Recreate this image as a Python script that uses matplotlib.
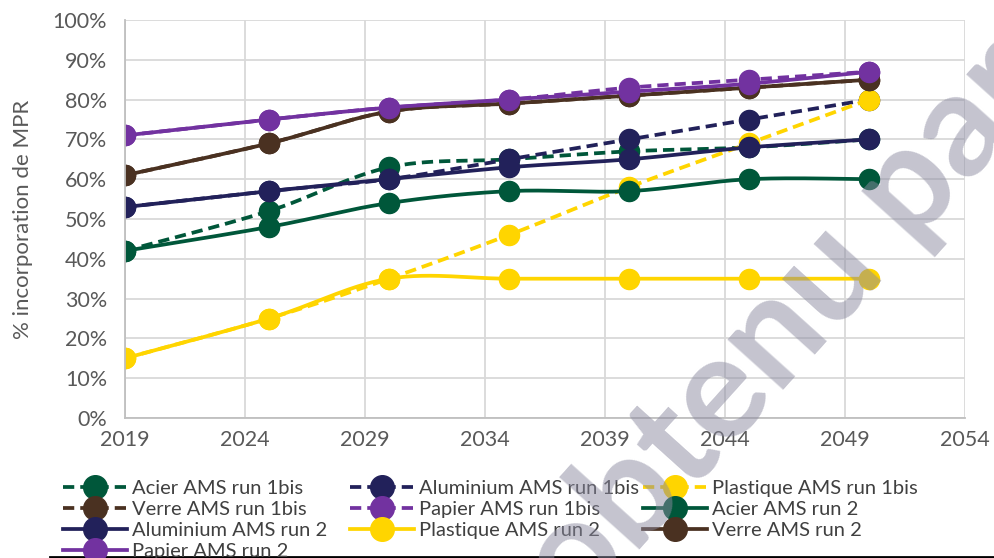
import numpy as np
import matplotlib.pyplot as plt
import matplotlib as mpl
from matplotlib.lines import Line2D

mpl.rcParams.update({'font.family': ['Lato', 'DejaVu Sans']})

years = [2019, 2025, 2030, 2035, 2040, 2045, 2050]

acier_1bis = [42, 52, 63, 65, 67, 68, 70]
alu_1bis = [53, 57, 60, 65, 70, 75, 80]
plast_1bis = [15, 25, 35, 46, 58, 69, 80]
verre_1bis = [61, 69, 77, 79, 81, 83, 85]
papier_1bis = [71, 75, 78, 80, 83, 85, 87]
acier_2 = [42, 48, 54, 57, 57, 60, 60]
alu_2 = [53, 57, 60, 63, 65, 68, 70]
plast_2 = [15, 25, 35, 35, 35, 35, 35]
verre_2 = [61, 69, 77, 79, 81, 83, 85]
papier_2 = [71, 75, 78, 80, 82, 84, 87]

green = '#00573A'
navy = '#22215A'
yellow = '#FFD500'
brown = '#4A3121'
purple = '#7232A0'

series = [
    ('Acier AMS run 1bis', acier_1bis, green, '--'),
    ('Aluminium AMS run 1bis', alu_1bis, navy, '--'),
    ('Plastique AMS run 1bis', plast_1bis, yellow, '--'),
    ('Verre AMS run 1bis', verre_1bis, brown, '--'),
    ('Papier AMS run 1bis', papier_1bis, purple, '--'),
    ('Acier AMS run 2', acier_2, green, '-'),
    ('Aluminium AMS run 2', alu_2, navy, '-'),
    ('Plastique AMS run 2', plast_2, yellow, '-'),
    ('Verre AMS run 2', verre_2, brown, '-'),
    ('Papier AMS run 2', papier_2, purple, '-'),
]


def smooth(x, y, n=30):
    # Excel-style smoothed line (Catmull-Rom bezier)
    p = np.column_stack([x, y]).astype(float)
    out = []
    for i in range(len(p) - 1):
        p0 = p[i - 1] if i > 0 else p[i]
        p1, p2 = p[i], p[i + 1]
        p3 = p[i + 2] if i + 2 < len(p) else p[i + 1]
        c1 = p1 + (p2 - p0) / 6
        c2 = p2 - (p3 - p1) / 6
        t = np.linspace(0, 1, n)[:, None]
        b = (1 - t)**3 * p1 + 3 * (1 - t)**2 * t * c1 + 3 * (1 - t) * t**2 * c2 + t**3 * p2
        out.append(b if i == 0 else b[1:])
    out = np.vstack(out)
    return out[:, 0], out[:, 1]


fig = plt.figure(figsize=(9.95, 5.58), dpi=100)
ax = fig.add_axes([125/995, 140/558, 840/995, 398/558])

handles = []
for label, vals, c, ls in series:
    sx, sy = smooth(years, vals)
    dash = (3, 1.6) if ls == '--' else None
    line, = ax.plot(sx, sy, color=c, lw=2.7, solid_capstyle='round')
    if dash:
        line.set_dashes(dash)
    ax.plot(years, vals, 'o', color=c, ms=14.5, mec=c)
    h = Line2D([], [], color=c, lw=2.7, marker='o', ms=17)
    if dash:
        h.set_dashes(dash)
    handles.append((h, label))

ax.set_xlim(2019, 2054)
ax.set_ylim(0, 100)
ax.set_xticks(range(2019, 2055, 5))
ax.set_yticks(range(0, 101, 10))
ax.set_yticklabels([f'{v}%' for v in range(0, 101, 10)])
ax.grid(True, color='#d9d9d9', lw=1.3)
ax.set_axisbelow(True)
for s in ['top', 'right']:
    ax.spines[s].set_visible(False)
for s in ['left', 'bottom']:
    ax.spines[s].set_color('#bfbfbf')
    ax.spines[s].set_linewidth(1.3)
ax.tick_params(length=0, labelsize=15.5, colors='#595959')
ax.tick_params(axis='y', pad=13)
ax.tick_params(axis='x', pad=9)
ax.set_ylabel('% incorporation de MPR', fontsize=16, color='#595959', labelpad=14)

# legend: three columns laid out like Excel (rows read left to right)
cols = [[0, 3, 6, 9], [1, 4, 7], [2, 5, 8]]
col_x = [63, 350, 643]
for idx, x0 in zip(cols, col_x):
    leg = fig.legend([handles[i][0] for i in idx], [handles[i][1] for i in idx],
                     loc='upper left', bbox_to_anchor=(x0/995, 1 - 480/558),
                     frameon=False, fontsize=14.5, handlelength=3.2, handletextpad=0.25,
                     labelspacing=0.2, borderaxespad=0, borderpad=0)
    for t in leg.get_texts():
        t.set_color('#404040')

fig.add_artist(Line2D([50/995, 1], [1.5/558, 1.5/558], color='black', lw=2))

# watermark
fig.text(578/995, -60/558, 'obtenu par', fontsize=105, fontweight='bold', rotation=48,
         rotation_mode='anchor', color='#8b8aa0', alpha=0.5, ha='left', va='baseline',
         zorder=20)

fig.savefig('out.png', dpi=100)
